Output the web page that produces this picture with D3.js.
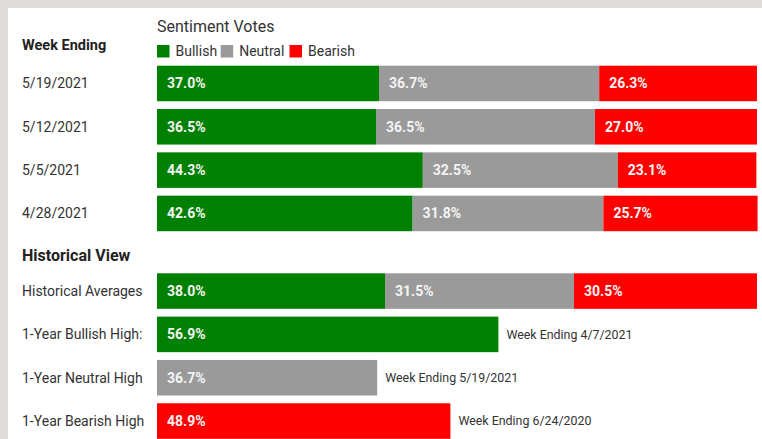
<!DOCTYPE html>
<html><head><meta charset="utf-8">
<script src="https://cdn.jsdelivr.net/npm/d3@7/dist/d3.min.js"></script>
<style>
html,body{margin:0;padding:0;background:#dddcd8;}
svg{display:block;font-family:Roboto,"Noto Sans",sans-serif;}
</style></head>
<body><svg id="chart" width="762" height="439"></svg>
<script>
const weeks = ["5/19/2021","5/12/2021","5/5/2021","4/28/2021"];
const bullish = [37.0,36.5,44.3,42.6];
const neutral = [36.7,36.5,32.5,31.8];
const bearish = [26.3,27.0,23.1,25.7];
const seriesNames = ["Bullish","Neutral","Bearish"];
const seriesColors = ["#008000","#9a9a9a","#ff0000"];
const histAvg = [38.0,31.5,30.5];
const highLabels = ["1-Year Bullish High:","1-Year Neutral High","1-Year Bearish High"];
const highValues = [56.9,36.7,48.9];
const highDates = ["Week Ending 4/7/2021","Week Ending 5/19/2021","Week Ending 6/24/2020"];

const svg = d3.select("#chart");
svg.append("rect").attr("x",8).attr("y",8).attr("width",754).attr("height",431).attr("fill","#fff");

const x = d3.scaleLinear().domain([0,100]).range([157,757]);
const color = d3.scaleOrdinal().domain(seriesNames).range(seriesColors);
const fmt = d => d.toFixed(1) + "%";
const step = 43.33;

// headers
svg.append("text").attr("x",22).attr("y",49.5).attr("font-size",14.5).attr("font-weight","bold").attr("fill","#222").text("Week Ending");
svg.append("text").attr("x",157).attr("y",32).attr("font-size",16).attr("fill","#333").text("Sentiment Votes");

// legend
const legX = [157,220.7,289.5];
const leg = svg.append("g");
seriesNames.forEach((s,i)=>{
  leg.append("rect").attr("x",legX[i]).attr("y",45).attr("width",12.5).attr("height",12.5).attr("fill",color(s));
  leg.append("text").attr("x",legX[i]+18.5).attr("y",56).attr("font-size",14).attr("fill","#333").text(s);
});

function stackedRows(keys, rows, y0){
  const y = d3.scaleBand().domain(keys).range([y0, y0 + keys.length*step]).paddingInner(0.18).paddingOuter(0.09);
  const data = keys.map((k,i)=>({key:k, Bullish:rows[0][i], Neutral:rows[1][i], Bearish:rows[2][i]}));
  const stack = d3.stack().keys(seriesNames)(data);
  const g = svg.append("g");
  stack.forEach(layer=>{
    g.selectAll(null).data(layer).join("rect")
      .attr("x",d=>x(d[0])).attr("y",d=>y(d.data.key))
      .attr("width",d=>x(d[1])-x(d[0])).attr("height",y.bandwidth())
      .attr("fill",color(layer.key));
    g.selectAll(null).data(layer).join("text")
      .attr("x",d=>x(d[0])+10).attr("y",d=>y(d.data.key)+y.bandwidth()/2)
      .attr("dy","0.35em").attr("font-size",14).attr("font-weight","bold").attr("fill","#f4f4f4")
      .text(d=>fmt(d.data[layer.key]));
  });
  g.selectAll(null).data(keys).join("text")
    .attr("x",22).attr("y",d=>y(d)+y.bandwidth()/2).attr("dy","0.35em")
    .attr("font-size",14).attr("fill","#333").text(d=>d);
  return y;
}

stackedRows(weeks,[bullish,neutral,bearish],61.8);

svg.append("text").attr("x",22).attr("y",261).attr("font-size",16).attr("font-weight","bold").attr("fill","#222").text("Historical View");

const histKeys = ["Historical Averages"].concat(highLabels);
const yh = d3.scaleBand().domain(histKeys).range([269.4,269.4+histKeys.length*step]).paddingInner(0.18).paddingOuter(0.09);
stackedRows(["Historical Averages"],[[histAvg[0]],[histAvg[1]],[histAvg[2]]],269.4);

const hg = svg.append("g");
const hdata = highLabels.map((l,i)=>({label:l, value:highValues[i], series:seriesNames[i], date:highDates[i]}));
hg.selectAll("rect").data(hdata).join("rect")
  .attr("x",x(0)).attr("y",d=>yh(d.label)).attr("width",d=>x(d.value)-x(0)).attr("height",yh.bandwidth())
  .attr("fill",d=>color(d.series));
hg.selectAll("text.v").data(hdata).join("text").attr("class","v")
  .attr("x",x(0)+10).attr("y",d=>yh(d.label)+yh.bandwidth()/2).attr("dy","0.35em")
  .attr("font-size",14).attr("font-weight","bold").attr("fill","#f4f4f4").text(d=>fmt(d.value));
hg.selectAll("text.d").data(hdata).join("text").attr("class","d")
  .attr("x",d=>x(d.value)+8).attr("y",d=>yh(d.label)+yh.bandwidth()/2).attr("dy","0.35em")
  .attr("font-size",12.4).attr("fill","#333").text(d=>d.date);
hg.selectAll("text.l").data(hdata).join("text").attr("class","l")
  .attr("x",22).attr("y",d=>yh(d.label)+yh.bandwidth()/2).attr("dy","0.35em")
  .attr("font-size",14).attr("fill","#333").text(d=>d.label);
</script>
</body></html>
